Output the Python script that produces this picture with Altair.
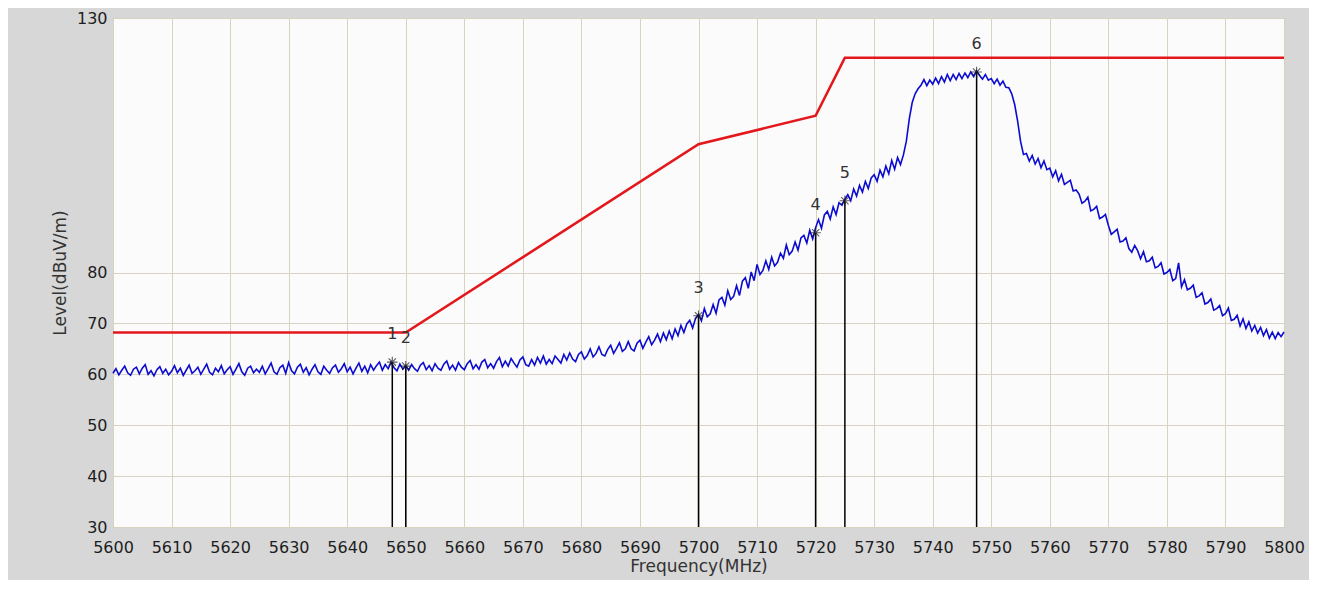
import altair as alt
import pandas as pd

# ---------------- data ----------------
FREQ_START = 5600.0   # MHz, first sweep point
FREQ_STEP = 0.5       # MHz between sweep points

trace_5600 = [60.2, 61.1, 59.9, 60.8, 61.6, 60.3, 59.8, 61.0, 61.4, 60.1,
              61.2, 61.9, 60.0, 60.7, 59.7, 60.9, 61.5, 60.2, 61.0, 59.9,
              60.6, 61.7, 60.3, 61.2, 59.8, 60.8, 61.8, 60.2, 60.7, 61.4,
              60.0, 61.0, 62.0, 60.4, 59.9, 61.2, 60.5, 61.7, 60.1, 60.9,
              61.5, 60.0, 61.0, 62.1, 60.5, 59.8, 61.2, 61.6, 60.3, 61.0]
trace_5625 = [60.4, 61.6, 60.1, 61.1, 62.2, 60.5, 60.0, 61.3, 61.8, 60.2,
              62.3, 60.7, 60.1, 61.4, 62.0, 60.4, 61.3, 59.9, 61.0, 61.9,
              60.5, 60.0, 61.6, 60.8, 60.2, 61.3, 61.8, 60.4, 61.1, 62.1,
              60.5, 61.4, 60.1, 61.2, 62.2, 60.6, 61.6, 60.3, 61.9, 60.8,
              61.7, 62.4, 60.8, 61.9, 61.1, 62.4, 61.3, 60.7, 62.0, 61.0]
trace_5650 = [61.7, 60.8, 61.9, 61.1, 60.6, 61.8, 62.3, 60.9, 61.7, 60.7,
              62.1, 61.2, 60.8, 62.0, 62.6, 61.0, 61.8, 60.8, 62.3, 61.4,
              60.9, 62.1, 62.7, 61.1, 61.9, 61.0, 62.4, 62.9, 61.3, 62.1,
              61.2, 62.5, 63.3, 61.5, 62.6, 61.6, 63.1, 62.2, 61.4, 62.8,
              63.4, 61.9, 61.6, 62.9, 61.8, 63.3, 62.2, 63.6, 62.0, 62.9]
trace_5675 = [62.1, 63.6, 62.9, 62.2, 63.9, 62.8, 64.2, 63.0, 62.5, 63.9,
              64.4, 63.0, 63.7, 65.0, 63.4, 64.1, 65.4, 63.9, 63.6, 64.9,
              65.7, 64.1, 65.1, 66.2, 64.5, 65.0, 66.4, 65.0, 64.6, 66.1,
              66.7, 65.1, 66.3, 67.4, 65.8, 66.7, 67.9, 66.4, 68.1, 66.8,
              68.5, 67.0, 68.9, 67.6, 69.6, 68.2, 69.9, 70.6, 69.1, 71.0]
trace_5700 = [71.8, 70.5, 72.9, 71.3, 71.9, 73.7, 72.0, 74.6, 75.1, 73.6,
              76.4, 74.7, 75.3, 77.4, 75.5, 78.3, 79.0, 76.9, 80.1, 78.4,
              81.6, 79.6, 80.4, 82.3, 80.6, 83.0, 81.3, 82.0, 83.8, 82.8,
              85.4, 83.5, 84.2, 86.0, 84.4, 86.8, 87.3, 85.8, 88.3, 86.6,
              88.8, 90.4, 88.7, 91.3, 92.0, 90.5, 92.9, 91.4, 93.7, 93.2]
trace_5725 = [94.4, 95.3, 94.1, 96.4, 95.0, 97.1, 95.8, 97.9, 96.5, 98.6,
              99.2, 97.9, 100.1, 98.8, 100.9, 99.4, 102.0, 100.3, 102.6, 101.2,
              103.1, 105.8, 110.2, 113.4, 115.1, 116.1, 116.8, 117.9, 116.7, 117.8,
              117.0, 118.2, 117.1, 118.5, 117.4, 118.9, 117.7, 118.9, 117.9, 119.1,
              118.1, 119.2, 118.3, 119.4, 118.5, 119.6, 118.7, 118.0, 118.9, 117.8]
trace_5750 = [118.1, 117.1, 118.0, 116.8, 117.6, 116.4, 116.3, 115.1, 113.0, 109.8,
              105.8, 103.2, 103.4, 101.9, 103.0, 101.3, 102.4, 100.6, 101.9, 100.2,
              100.5, 98.8, 100.0, 98.0, 99.3, 97.3, 97.7, 98.1, 96.0, 96.2,
              95.4, 93.6, 94.0, 94.8, 92.1, 92.4, 93.0, 90.6, 90.9, 91.4,
              89.3, 87.5, 88.0, 88.5, 86.0, 86.2, 86.8, 84.7, 84.0, 85.3]
trace_5775 = [84.3, 82.7, 84.1, 82.1, 82.3, 83.0, 80.9, 81.2, 81.9, 79.7,
              80.0, 80.6, 78.4, 78.8, 81.9, 77.2, 78.6, 76.6, 76.9, 77.5,
              75.1, 75.4, 76.0, 73.8, 74.1, 74.8, 72.6, 72.9, 73.5, 71.5,
              71.9, 73.0, 70.6, 70.8, 71.6, 69.5, 70.9, 69.0, 70.3, 68.5,
              69.6, 68.1, 69.2, 67.6, 68.8, 67.1, 68.3, 67.0, 68.2, 67.4, 68.3]

limit_freq = [5600, 5650, 5700, 5720, 5725, 5800]
limit_level = [68.2, 68.2, 105.2, 110.8, 122.2, 122.2]

marker_freq = [5647.7, 5650.0, 5700.0, 5720.0, 5725.0, 5747.5]
marker_level = [62.4, 61.6, 71.5, 87.8, 94.1, 119.4]
marker_label = ["1", "2", "3", "4", "5", "6"]

x_ticks = list(range(5600, 5801, 10))
y_ticks = [30, 40, 50, 60, 70, 80, 130]

# ---------------- tables ----------------
trace_values = (trace_5600 + trace_5625 + trace_5650 + trace_5675 +
                trace_5700 + trace_5725 + trace_5750 + trace_5775)
trace_df = pd.DataFrame({
    "freq": [FREQ_START + FREQ_STEP * i for i in range(len(trace_values))],
    "level": trace_values,
})
limit_df = pd.DataFrame({"freq": limit_freq, "level": limit_level})
marker_df = pd.DataFrame({"freq": marker_freq, "level": marker_level,
                          "label": marker_label})

FONT = "DejaVu Sans"

x_enc = alt.X("freq:Q",
              scale=alt.Scale(domain=[5600, 5800], nice=False, zero=False),
              axis=alt.Axis(values=x_ticks, format="d", title="Frequency(MHz)",
                            labelPadding=12, titlePadding=3, labelOverlap=False,
                            labelFlush=False, labelBound=False))
y_enc = alt.Y("level:Q",
              scale=alt.Scale(domain=[30, 130], nice=False, zero=False),
              axis=alt.Axis(values=y_ticks, format="d", title="Level(dBuV/m)",
                            labelPadding=6, titlePadding=7, labelOverlap=False,
                            labelFlush=False, labelBound=False))

trace = alt.Chart(trace_df).mark_line(color="#0c0cd0", strokeWidth=1.6).encode(
    x=x_enc, y=y_enc)

limit = alt.Chart(limit_df).mark_line(color="#e3171c", strokeWidth=2.6).encode(
    x=x_enc, y=y_enc)

rules = alt.Chart(marker_df).mark_rule(color="#000000", strokeWidth=1.5).encode(
    x=x_enc, y=y_enc, y2=alt.datum(30))

star = "M-1,0H1M0,-1V1M-0.7,-0.7L0.7,0.7M-0.7,0.7L0.7,-0.7"
points = alt.Chart(marker_df).mark_point(
    shape=star, size=110, filled=False, color="#1a1a1a", strokeWidth=1.1
).encode(x=x_enc, y=y_enc)

labels = alt.Chart(marker_df).mark_text(
    dy=-28, font=FONT, fontSize=16, color="#333333", align="center",
    baseline="middle"
).encode(x=x_enc, y=y_enc, text="label:N")

chart = alt.layer(trace, limit, rules, points, labels).properties(
    width=1171,
    height=509,
    background="#d7d7d7",
    padding={"left": 105, "top": 10, "right": 25, "bottom": 53},
    autosize=alt.AutoSizeParams(type="none"),
).configure_view(
    fill="#fbfbfb", stroke="#8e8e8e", strokeWidth=1
).configure_axis(
    labelFont=FONT, labelFontSize=16, labelColor="#1e1e1e",
    titleFont=FONT, titleFontSize=17, titleColor="#333333", titleFontWeight="normal",
    ticks=False, tickSize=0, domain=False,
    grid=True, gridColor="#d8d3c0", gridWidth=1,
)

chart.save("out.html", embed_options={"renderer": "svg", "actions": False})
